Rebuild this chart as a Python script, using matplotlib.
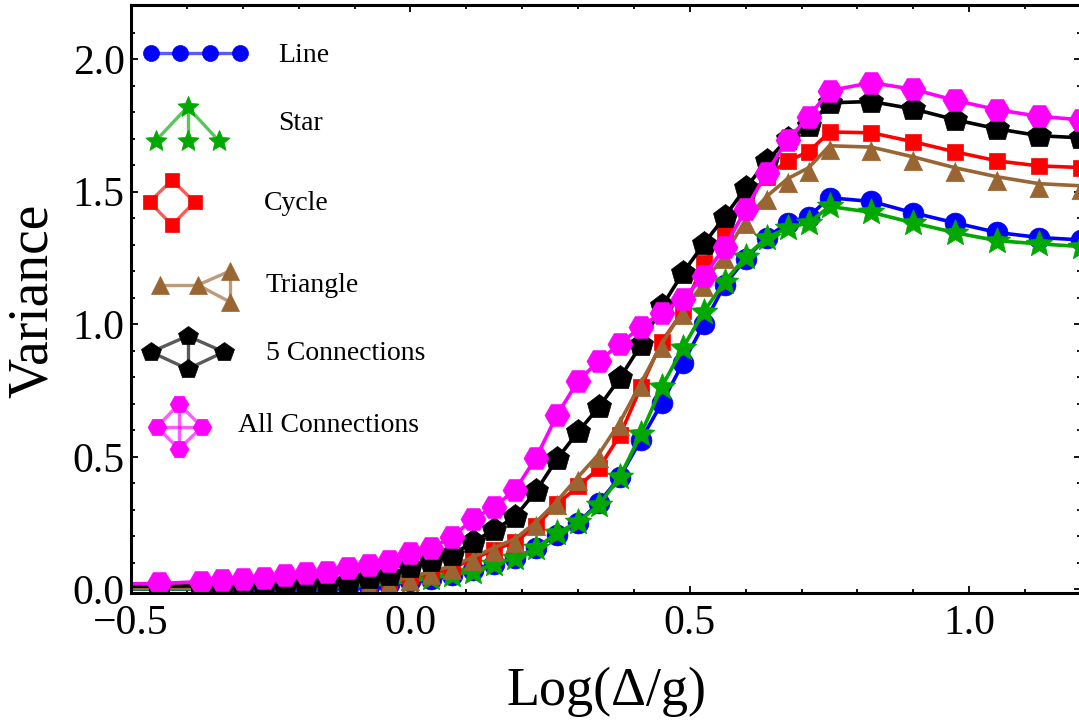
import matplotlib
matplotlib.use("Agg")
import matplotlib.pyplot as plt
from matplotlib.path import Path
from matplotlib.ticker import FixedLocator, FuncFormatter

plt.rcParams["font.family"] = ["Liberation Serif", "DejaVu Serif"]

log_ratio = [-0.525, -0.45, -0.375, -0.3375, -0.3, -0.2625, -0.225, -0.1875, -0.15, -0.1125, -0.075, -0.0375,
             0.0, 0.0375, 0.075, 0.1125, 0.15, 0.1875, 0.225, 0.2625, 0.3, 0.3375, 0.375, 0.4125, 0.45, 0.4875,
             0.525, 0.5625, 0.6, 0.6375, 0.675, 0.7125, 0.75, 0.825, 0.9, 0.975, 1.05, 1.125, 1.2]

line_var = [.001, .001, .001, .002, .002, .003, .004, .005, .006, .009, .013, .02,
            .03, .04, .055, .073, .096, .118, .156, .205, .252, .327, .425, .564, .703, .853,
            1.0, 1.149, 1.247, 1.327, 1.382, 1.406, 1.477, 1.463, 1.42, 1.382, 1.346, 1.327, 1.318]
star_var = [.002, .002, .002, .003, .003, .004, .005, .006, .008, .011, .015, .022,
            .03, .042, .055, .067, .096, .118, .156, .212, .255, .318, .425, .586, .765, .91,
            1.047, 1.161, 1.255, 1.326, 1.363, 1.382, 1.444, 1.422, 1.382, 1.345, 1.315, 1.303, 1.293]
cycle_var = [.006, .006, .006, .007, .008, .009, .01, .012, .014, .018, .024, .033,
             .05, .06, .08, .115, .149, .179, .24, .322, .388, .457, .582, .763, .934, 1.05,
             1.231, 1.35, 1.466, 1.557, 1.616, 1.65, 1.725, 1.722, 1.688, 1.65, 1.616, 1.597, 1.591]
triangle_var = [.004, .004, .004, .005, .006, .007, .008, .01, .013, .017, .024, .032,
                .045, .068, .088, .122, .157, .191, .254, .333, .424, .511, .631, .778, .927, 1.05,
                1.156, 1.262, 1.394, 1.482, 1.549, 1.59, 1.673, 1.668, 1.631, 1.59, 1.556, 1.53, 1.522]
five_var = [.012, .012, .013, .014, .015, .016, .018, .02, .023, .029, .043, .054,
            .086, .105, .13, .18, .224, .274, .371, .492, .594, .688, .797, .922, 1.067, 1.193,
            1.303, 1.406, 1.514, 1.614, 1.70, 1.746, 1.835, 1.84, 1.812, 1.771, 1.737, 1.711, 1.703]
all_var = [.02, .022, .029, .035, .039, .044, .054, .06, .067, .08, .092, .105,
           .138, .155, .199, .265, .312, .375, .497, .658, .786, .862, .926, .99, 1.044, 1.096,
           1.18, 1.292, 1.433, 1.572, 1.696, 1.782, 1.881, 1.911, 1.886, 1.844, 1.809, 1.784, 1.771]

x_ticks = [-0.5, 0.0, 0.5, 1.0]
y_ticks = [0.0, 0.5, 1.0, 1.5, 2.0]

BLUE = "#0000ff"
GREEN = "#00a800"
RED = "#ff0000"
BROWN = "#996633"
PINK = "#ff00ff"
# triangle sits low on its data point, like the original
TRI = [(0, 0.47), (-0.72, -1), (0.72, -1)]
STAR = Path.unit_regular_star(5, innerCircle=0.45)

fig = plt.figure(figsize=(10.79, 7.21), dpi=100)
W, H = 1079.0, 721.0
left, right, top, bottom = 131.0, 1081.0, 5.0, 592.5
ax = fig.add_axes([left / W, 1 - bottom / H, (right - left) / W, (bottom - top) / H])

series = [
    (line_var, BLUE, "o", 15),
    (star_var, GREEN, STAR, 20),
    (cycle_var, RED, "s", 11.5),
    (triangle_var, BROWN, TRI, 19),
    (five_var, "black", "p", 18.5),
    (all_var, PINK, "H", 18),
]
for values, color, marker, size in series:
    ax.plot(log_ratio, values, color=color, lw=2.6, marker=marker, ms=size, mec=color, mew=0.5)

ax.set_xlim(-0.5, 1.2)
ax.set_ylim(-0.012, 2.204)
ax.xaxis.set_major_locator(FixedLocator(x_ticks))
ax.yaxis.set_major_locator(FixedLocator(y_ticks))
ax.xaxis.set_minor_locator(FixedLocator([i / 10 for i in range(-5, 13)]))
ax.yaxis.set_minor_locator(FixedLocator([i / 10 for i in range(0, 23)]))
fmt = FuncFormatter(lambda v, pos: f"{v:.1f}".replace("-", "\u2212"))
ax.xaxis.set_major_formatter(fmt)
ax.yaxis.set_major_formatter(fmt)
ax.tick_params(which="major", direction="in", length=5, width=1.3, top=True, right=True, labelsize=30)
ax.tick_params(which="minor", direction="in", length=2.8, width=1.3, top=True, right=True)
ax.tick_params(axis="x", which="major", pad=9)
ax.tick_params(axis="y", which="major", pad=4.5)
for spine in ax.spines.values():
    spine.set_linewidth(2.2)

fig.text(606 / W, 1 - 692 / H, "Log(\u0394/g)", fontsize=39, ha="center", va="center")
fig.text(33 / W, 1 - 301 / H, "Variance", fontsize=40, ha="center", va="center", rotation=90)

# hand drawn legend, in pixel coordinates of the figure
over = fig.add_axes([0, 0, 1, 1])
over.set_xlim(0, W)
over.set_ylim(H, 0)
over.axis("off")


def glyph(xs, ys, edges, color, marker, size):
    for a, b in edges:
        over.plot([xs[a], xs[b]], [ys[a], ys[b]], color=color, lw=2.4, alpha=0.65, solid_capstyle="butt")
    over.plot(xs, ys, ls="none", marker=marker, ms=size, mfc=color, mec=color, mew=0.5)


glyph([151, 180, 210, 240], [53, 53, 53, 53], [(0, 1), (1, 2), (2, 3)], BLUE, "o", 11.5)
glyph([187.5, 155.5, 187.5, 219], [107, 141, 141, 141], [(0, 1), (0, 2), (0, 3)], GREEN, STAR, 16)
glyph([172, 149.5, 194.5, 172], [180, 202, 202, 225], [(0, 1), (0, 2), (1, 3), (2, 3)], RED, "s", 10.5)
glyph([160, 198, 230, 230], [285, 285, 271, 302], [(0, 1), (1, 2), (1, 3), (2, 3)], BROWN, "^", 12.5)
glyph([151, 187.7, 224, 187.7], [352, 336, 352, 369], [(0, 1), (0, 3), (1, 3), (1, 2), (3, 2)], "black", "p", 14.5)
glyph([179, 157, 202, 179], [404, 427, 427, 449], [(0, 1), (0, 2), (0, 3), (1, 2), (1, 3), (2, 3)], PINK, "H", 13.5)

labels = ["Line", "Star", "Cycle", "Triangle", "5 Connections", "All Connections"]
label_x = [278, 278, 264, 266, 266, 238]
label_y = [55, 124, 203, 286, 353, 426]
for name, tx, ty in zip(labels, label_x, label_y):
    over.text(tx, ty, name, fontsize=20, ha="left", va="center")

fig.savefig("out.png", dpi=100)
